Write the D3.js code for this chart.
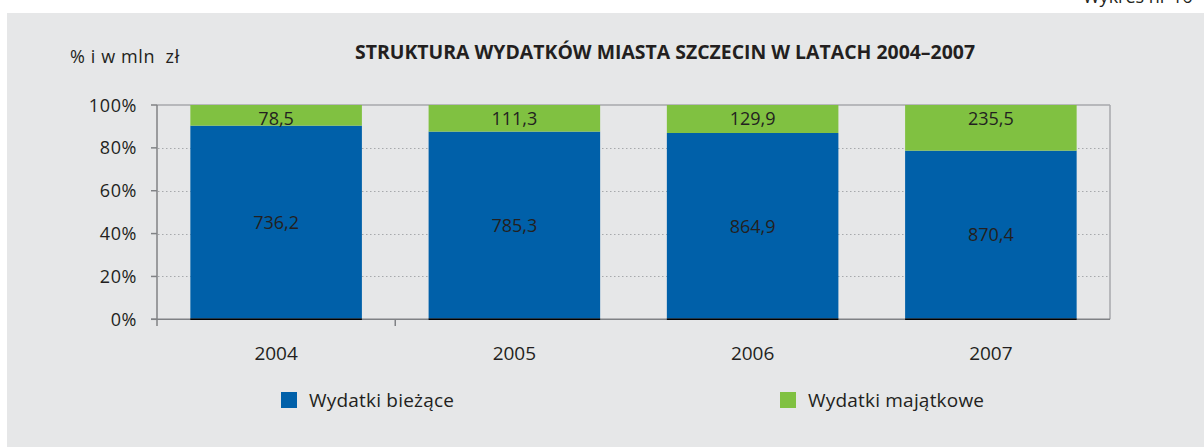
<!DOCTYPE html>
<html>
<head>
<meta charset="utf-8">
<script src="https://cdn.jsdelivr.net/npm/d3@7"></script>
<style>
  html, body { margin: 0; padding: 0; background: #ffffff; }
  svg { display: block; }
  text { font-family: "Open Sans", "DejaVu Sans", sans-serif; fill: #231f20; }
</style>
</head>
<body>
<svg id="chart" width="1204" height="447"></svg>
<script>
// Expenditure of the city of Szczecin, million PLN
const years = ["2004", "2005", "2006", "2007"];
const biezace = [736.2, 785.3, 864.9, 870.4];     // current expenditure
const majatkowe = [78.5, 111.3, 129.9, 235.5];    // capital expenditure
const yTicks = [0, 0.2, 0.4, 0.6, 0.8, 1.0];
const seriesNames = ["Wydatki bieżące", "Wydatki majątkowe"];
const colors = ["#0060a9", "#80c141"];

const fmt = v => d3.format(".1f")(v).replace(".", ",");

const svg = d3.select("#chart");

// panel background
svg.append("rect").attr("x", 7).attr("y", 13).attr("width", 1197).attr("height", 434)
  .attr("fill", "#e6e7e8");

// page header in the top-right corner, running off the top edge
svg.append("text").attr("x", 1083).attr("y", 3).attr("font-size", 18)
  .text("Wykres nr 16");

const plotL = 157, plotR = 1110, plotT = 105, plotB = 319.3;

const x = d3.scaleBand().domain(years).range([plotL, plotR])
  .paddingInner(0.28).paddingOuter(0.14);
const y = d3.scaleLinear().domain([0, 1]).range([plotB, plotT]);

// dotted gridlines
svg.append("g").selectAll("line").data(yTicks.filter(t => t > 0 && t < 1)).join("line")
  .attr("x1", plotL + 1).attr("x2", plotR)
  .attr("y1", d => Math.round(y(d)) + 0.5).attr("y2", d => Math.round(y(d)) + 0.5)
  .attr("stroke", "#a7a9ac").attr("stroke-width", 1).attr("stroke-dasharray", "1.5,2.5");

// plot frame: top and right
svg.append("line").attr("x1", plotL).attr("x2", plotR).attr("y1", plotT).attr("y2", plotT)
  .attr("stroke", "#a7a9ac").attr("stroke-width", 1.5);
svg.append("line").attr("x1", plotR).attr("x2", plotR).attr("y1", plotT).attr("y2", plotB)
  .attr("stroke", "#a7a9ac").attr("stroke-width", 1.5);

// stacked shares
const rows = years.map((yr, i) => {
  const total = biezace[i] + majatkowe[i];
  return { yr, b: biezace[i], m: majatkowe[i], bShare: biezace[i] / total };
});

const bars = svg.append("g");
bars.selectAll("rect.b").data(rows).join("rect").attr("class", "b")
  .attr("x", d => x(d.yr)).attr("width", x.bandwidth())
  .attr("y", d => y(d.bShare)).attr("height", d => y(0) - y(d.bShare))
  .attr("fill", colors[0]);
bars.selectAll("rect.m").data(rows).join("rect").attr("class", "m")
  .attr("x", d => x(d.yr)).attr("width", x.bandwidth())
  .attr("y", y(1)).attr("height", d => y(d.bShare) - y(1))
  .attr("fill", colors[1]);

// axes
svg.append("line").attr("x1", plotL - 6).attr("x2", plotR).attr("y1", plotB).attr("y2", plotB)
  .attr("stroke", "#808285").attr("stroke-width", 1.5);
svg.append("g").selectAll("line").data(rows).join("line")
  .attr("x1", d => x(d.yr)).attr("x2", d => x(d.yr) + x.bandwidth())
  .attr("y1", plotB).attr("y2", plotB)
  .attr("stroke", "#000").attr("stroke-width", 1.5);
svg.append("line").attr("x1", plotL).attr("x2", plotL).attr("y1", plotT).attr("y2", 326)
  .attr("stroke", "#808285").attr("stroke-width", 1.5);
// separator tick between the first two categories
const sep = x(years[0]) + x.bandwidth() + x.step() * x.paddingInner() / 2;
svg.append("line").attr("x1", sep).attr("x2", sep).attr("y1", plotB).attr("y2", 326)
  .attr("stroke", "#808285").attr("stroke-width", 1.5);

// y ticks and labels
const yt = svg.append("g");
yt.selectAll("line").data(yTicks).join("line")
  .attr("x1", plotL - 6).attr("x2", plotL).attr("y1", d => y(d)).attr("y2", d => y(d))
  .attr("stroke", "#808285").attr("stroke-width", 1.5);
yt.selectAll("text").data(yTicks).join("text")
  .attr("x", 137).attr("y", d => y(d) + 6.5).attr("text-anchor", "end")
  .attr("font-size", 18).attr("letter-spacing", 0.6)
  .text(d => Math.round(d * 100) + "%");

// x labels
svg.append("g").selectAll("text").data(years).join("text")
  .attr("x", d => x(d) + x.bandwidth() / 2).attr("y", 360).attr("text-anchor", "middle")
  .attr("font-size", 19).text(d => d);

// value labels
svg.append("g").selectAll("text").data(rows).join("text")
  .attr("x", d => x(d.yr) + x.bandwidth() / 2)
  .attr("y", d => (y(d.bShare) + y(0)) / 2 + 6.5)
  .attr("text-anchor", "middle").attr("font-size", 18).attr("fill", "#000")
  .text(d => fmt(d.b));
svg.append("g").selectAll("text").data(rows).join("text")
  .attr("x", d => x(d.yr) + x.bandwidth() / 2)
  .attr("y", y(1) + 20)
  .attr("text-anchor", "middle").attr("font-size", 18).attr("fill", "#000")
  .text(d => fmt(d.m));

// titles
svg.append("text").attr("x", 355).attr("y", 59).attr("font-size", 19).attr("font-weight", "bold")
  .attr("textLength", 620).attr("lengthAdjust", "spacingAndGlyphs")
  .text("STRUKTURA WYDATKÓW MIASTA SZCZECIN W LATACH 2004–2007");
svg.append("text").attr("x", 70).attr("y", 63).attr("font-size", 18)
  .attr("letter-spacing", 0.6)
  .attr("xml:space", "preserve").text("% i w mln  zł");

// legend
const legendX = [281, 780];
const lg = svg.append("g").selectAll("g").data(seriesNames).join("g")
  .attr("transform", (d, i) => `translate(${legendX[i]},392)`);
lg.append("rect").attr("width", 16).attr("height", 16).attr("fill", (d, i) => colors[i]);
lg.append("text").attr("x", 28).attr("y", 15).attr("font-size", 19)
  .attr("letter-spacing", 0.2).text(d => d);
</script>
</body>
</html>
